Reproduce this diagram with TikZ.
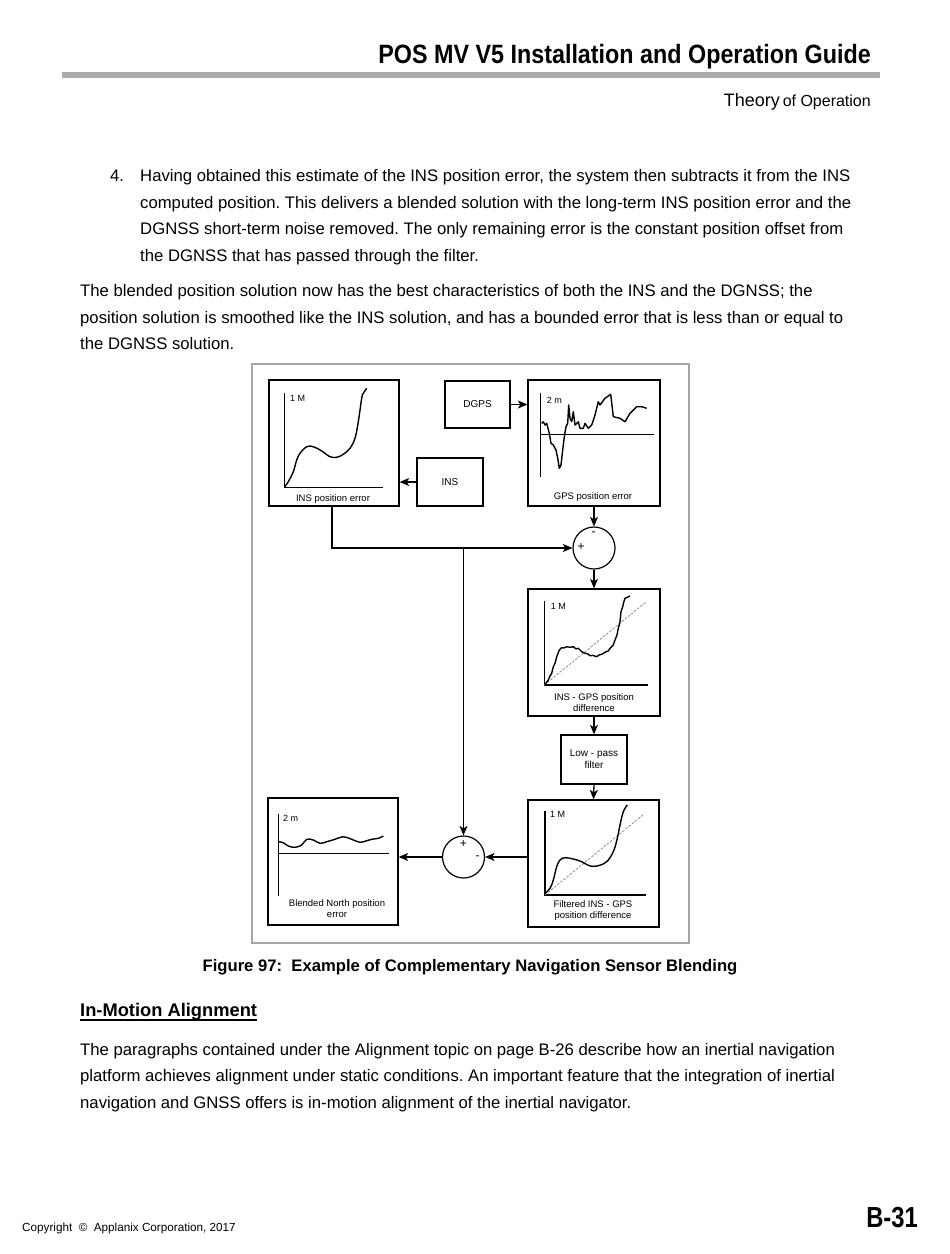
\documentclass[tikz,border=0pt]{standalone}
\usepackage{fontspec}
\setmainfont{Liberation Sans}
\newfontfamily\nar[FakeStretch=0.82]{Liberation Sans}
\newfontfamily\hnar[FakeStretch=0.88]{Liberation Sans}
\usetikzlibrary{arrows.meta}
\frenchspacing
\tikzset{
 frame/.style={draw, line width=1.3pt, inner sep=0pt},
 blk/.style={frame, font=\fontsize{10}{12}\selectfont, align=center},
 sumc/.style={draw, circle, line width=1.2pt, minimum size=42pt, inner sep=0pt},
 arr/.style={line width=1.3pt, -{Stealth[length=9.5pt,width=8pt,inset=2.5pt]}},
 crv/.style={line width=1.4pt, line join=round},
 ax/.style={line width=1.3pt},
 dsh/.style={gray, line width=0.7pt, dash pattern=on 2.5pt off 1.5pt},
 small/.style={font=\fontsize{9}{11}\selectfont, inner sep=0pt},
 lbl/.style={font=\fontsize{9.5}{11.5}\selectfont, align=center, inner sep=0pt},
 sgn/.style={font=\fontsize{12}{13}\selectfont, inner sep=0pt},
 body/.style={anchor=base west, inner sep=0pt, font=\fontsize{16.7}{20}\selectfont},
}
\begin{document}
\begin{tikzpicture}[x=1pt,y=-1pt]
\useasboundingbox (0,0) rectangle (950,1254);
\fill[white] (0,0) rectangle (950,1254);

% header
\node[anchor=base east, inner sep=0pt, font=\hnar\bfseries\fontsize{26.5}{30}\selectfont] (hdr) at (871,63) {POS MV V5 Installation and Operation Guide};
\fill[gray!65] (62,72) rectangle (880,77.5);
\node[anchor=base east, inner sep=0pt] (sec) at (871,106) {{\fontsize{18}{20}\selectfont Theory} {\fontsize{16}{18}\selectfont of Operation}};

% item 4
\node[body] (n4) at (110,181.5) {4.};
\node[body] (l1) at (140,181.5) {Having obtained this estimate of the INS position error, the system then subtracts it from the INS};
\node[body] (l2) at (140,208.2) {computed position. This delivers a blended solution with the long-term INS position error and the};
\node[body] (l3) at (140,234.9) {DGNSS short-term noise removed. The only remaining error is the constant position offset from};
\node[body] (l4) at (140,261.6) {the DGNSS that has passed through the filter.};

\node[body] (p1) at (80,296.5) {The blended position solution now has the best characteristics of both the INS and the DGNSS; the};
\node[body] (p2) at (80,323.2) {position solution is smoothed like the INS solution, and has a bounded error that is less than or equal to};
\node[body] (p3) at (80,349.9) {the DGNSS solution.};

% diagram frame
\draw[gray!70, line width=1.2pt] (252,364) rectangle (689,943);

% blocks
\node[frame, minimum width=130pt, minimum height=126pt] (inserr) at (334,443) {};
\node[blk, minimum width=65pt, minimum height=47pt] (dgps) at (477.5,404.5) {DGPS};
\node[frame, minimum width=132pt, minimum height=126pt] (gpserr) at (594,443) {};
\node[blk, minimum width=66pt, minimum height=48pt] (ins) at (450,482) {INS};
\node[sumc] (sum1) at (594,548) {};
\node[frame, minimum width=132pt, minimum height=127pt] (diff) at (594,652.5) {};
\node[blk, minimum width=66pt, minimum height=49pt] (lpf) at (594,759.5) {Low - pass\\filter};
\node[frame, minimum width=131pt, minimum height=127pt] (filt) at (593.5,863.5) {};
\node[sumc] (sum2) at (463.5,857) {};
\node[frame, minimum width=130pt, minimum height=127pt] (blend) at (333,861.5) {};

% connectors
\draw[arr] (dgps.east) -- (dgps.east -| gpserr.west);
\draw[arr] (ins.west) -- (ins.west -| inserr.east);
\draw[arr] (gpserr.south) -- (sum1.north);
\coordinate (ie) at ([xshift=-2pt]inserr.south);
\draw[arr] (ie) |- (sum1.west);
\coordinate (jn) at (sum2.north |- sum1.west);
\draw[arr] (jn) -- (sum2.north);
\draw[arr] (sum1.south) -- (diff.north);
\draw[arr] (diff.south) -- (lpf.north);
\draw[arr] (lpf.south) -- (filt.north);
\draw[arr] (sum2.east -| filt.west) -- (sum2.east);
\draw[arr] (sum2.west) -- (sum2.west -| blend.east);

% signs
\node[sgn] (s1m) at (593.5,534) {-};
\node[sgn] (s1p) at (581,547.5) {+};
\node[sgn] (s2p) at (463.5,844) {+};
\node[sgn] (s2m) at (477.5,857.5) {-};

% INS position error plot
\draw[ax] (284.3,393) -- (284.3,487.3) -- (383,487.3);
\node[small, anchor=west] (t1) at (290,398.5) {1 M};
\draw[crv] plot[smooth, tension=0.6] coordinates {(284.3,487.3) (288.3,481.7) (293.3,471.7) (296.7,460) (300,453.3) (306.7,446.7) (313.3,446.7) (321.7,451) (330,456.7) (336.7,457.3) (343.3,454.3) (350,448.3) (355,438.3) (358.3,421.7) (361.7,398.3) (363.3,393.3) (366.7,388.3)};
\node[lbl] (c1) at (333,499) {INS position error};

% GPS position error plot
\draw[ax] (540.7,393) -- (540.7,477);
\draw[ax] (540.7,434.3) -- (654,434.3);
\node[small, anchor=west] (t2) at (546.7,400) {2 m};
\draw[crv] (541.7,423.3) -- (543.3,421.7) -- (545,425) -- (546.7,423.3) -- (549.3,433.3) -- (551,443.3) -- (553.3,445) -- (556,450) -- (557.7,458.3) -- (559.3,468.3) -- (561,465) -- (562.7,450) -- (564.3,436.7) -- (566,426.7) -- (567.7,423.3) -- (568.7,405) -- (570,418.3) -- (571.7,421.7) -- (573.3,411.7) -- (575,425) -- (578.3,421.7) -- (580,428.3) -- (583.3,428.3) -- (585,423.3) -- (588.3,428.3) -- (591.7,425) -- (595,415) -- (598.3,401.7) -- (600,405) -- (605,398.3) -- (610.7,394.3) -- (613.3,416.7) -- (620,418.3) -- (625,421.7) -- (630,413.3) -- (636.7,406.7) -- (641.7,406.7) -- (646.7,408.3);
\node[lbl] (c2) at (593,496.7) {GPS position error};

% INS - GPS difference plot
\draw[ax] (544.3,601) -- (544.3,685) -- (648,685);
\draw[dsh] (544.3,685) -- (646,602);
\node[small, anchor=west] (t3) at (550.7,606) {1 M};
\draw[crv] (545,684.3) -- (548.3,680) -- (550,676) -- (551.7,673.3) -- (553.3,666.7) -- (555,663.3) -- (556.7,656.7) -- (559.3,650) -- (561.7,647.7) -- (564,647.9) -- (566.7,646.7) -- (570,647.3) -- (573.3,646.7) -- (576,648.9) -- (578.3,648.3) -- (581.7,651.7) -- (585,653.3) -- (587.5,653.7) -- (590,655.7) -- (593,655.4) -- (596.7,656.7) -- (599,655) -- (601.7,654.3) -- (606,651.7) -- (608,651.2) -- (610,648.3) -- (613,645.5) -- (615,640) -- (617,635) -- (618.3,628.3) -- (620,621.7) -- (621,611.7) -- (622.7,606.7) -- (623.5,603) -- (625,598.3) -- (630,596);
\node[lbl] (c3) at (594,702.5) {INS - GPS position\\difference};

% Filtered plot
\draw[ax] (545,811) -- (545,895) -- (646,895);
\draw[dsh] (545,895) -- (644,814);
\node[small, anchor=west] (t4) at (550,814) {1 M};
\draw[crv] plot[smooth, tension=0.6] coordinates {(545,893.3) (550,888.3) (553.3,880) (556.7,866.7) (560,860) (565,857.7) (573.3,859) (581.7,861.7) (590,866) (598.3,865.7) (606.7,861.7) (613.3,851.7) (617.3,838.3) (620,825) (623.3,811.7) (627.3,805)};
\node[lbl] (c4) at (593,910.5) {Filtered INS - GPS\\position difference};

% Blended plot
\draw[ax] (278.3,814) -- (278.3,896);
\draw[ax] (278.3,853.3) -- (389.3,853.3);
\node[small, anchor=west] (t5) at (283,818.5) {2 m};
\draw[crv] plot[smooth, tension=0.6] coordinates {(278.3,841.7) (283.3,842.7) (288.3,846) (295,847.3) (301.7,845) (306.7,839.3) (313.3,840) (320,843.3) (326.7,841.7) (335,839.3) (343.3,836.7) (351.7,839.3) (360,842.3) (366.7,840.7) (371.7,839.3) (378.3,838.3) (383.3,836)};
\node[lbl] (c5) at (337,908.5) {Blended North position\\error};

% caption
\node[anchor=base, inner sep=0pt, font=\bfseries\fontsize{16.65}{20}\selectfont] (cap) at (470,971.5) {Figure 97:\ \ Example of Complementary Navigation Sensor Blending};

% heading
\node[anchor=base west, inner sep=0pt, font=\bfseries\fontsize{18.3}{22}\selectfont] (h1) at (80,1016.7) {In-Motion Alignment};
\draw[line width=1.3pt] (80,1020) -- (h1.east |- 0,1020);

\node[body] (q1) at (80,1055) {The paragraphs contained under the Alignment topic on page B-26 describe how an inertial navigation};
\node[body] (q2) at (80,1081.7) {platform achieves alignment under static conditions. An important feature that the integration of inertial};
\node[body] (q3) at (80,1108.4) {navigation and GNSS offers is in-motion alignment of the inertial navigator.};

% footer
\node[anchor=base west, inner sep=0pt, font=\fontsize{11.7}{13}\selectfont] (cp) at (22,1231) {Copyright\ \ \textcopyright\ \ Applanix Corporation, 2017};
\node[anchor=base east, inner sep=0pt, font=\nar\bfseries\fontsize{29}{32}\selectfont] (pg) at (918,1227) {B-31};
\end{tikzpicture}
\end{document}
